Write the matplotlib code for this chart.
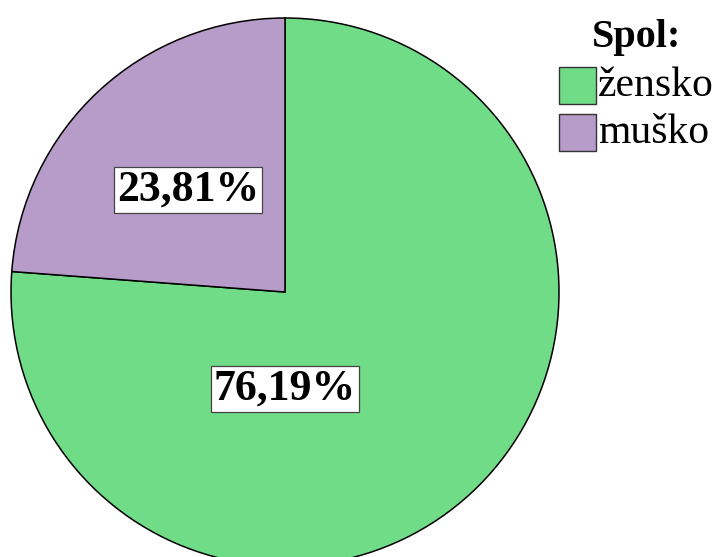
import matplotlib
matplotlib.use('Agg')
import matplotlib.pyplot as plt
from matplotlib.patches import Rectangle

# podaci
labels = ['žensko', 'muško']
values = [76.19, 23.81]
colors = ['#70DC87', '#B79BC9']
pct_text = ['76,19%', '23,81%']

plt.rcParams['font.family'] = ['Liberation Serif', 'DejaVu Serif']

W, H = 717, 557
cx, cy, r = 285, 292, 274
fig = plt.figure(figsize=(W / 100, H / 100), dpi=100)
ax = fig.add_axes((0, 0, 1, 1))

wedges, _ = ax.pie(values, colors=colors, startangle=90, counterclock=False,
                   radius=1.0, wedgeprops=dict(edgecolor='black', linewidth=1.1))
ax.set_xlim(-cx / r, (W - cx) / r)
ax.set_ylim(-(H - cy) / r, cy / r)
ax.set_aspect('equal', adjustable='datalim')
ax.axis('off')

# oznake postotaka
lab_pos = [((285 - cx) / r, (cy - 389) / r), ((188 - cx) / r, (cy - 190) / r)]
for (x, y), t in zip(lab_pos, pct_text):
    ax.text(x, y, t, ha='center', va='center', fontsize=31.5, fontweight='bold',
            bbox=dict(boxstyle='square,pad=0.07', facecolor='white', edgecolor='#444444', linewidth=0.9))

# legenda
fig.text(637 / W, 1 - 37 / H, 'Spol:', ha='center', va='center', fontsize=29, fontweight='bold')
for i, (lab, c) in enumerate(zip(labels, colors)):
    y0 = 67 + i * 47
    fig.patches.append(Rectangle((559 / W, 1 - (y0 + 37) / H), 37 / W, 37 / H, transform=fig.transFigure,
                                 facecolor=c, edgecolor='#333333', linewidth=1.0))
    fig.text(598 / W, 1 - (y0 + 19) / H, lab, ha='left', va='center', fontsize=30)

plt.savefig('out.png', dpi=100)
